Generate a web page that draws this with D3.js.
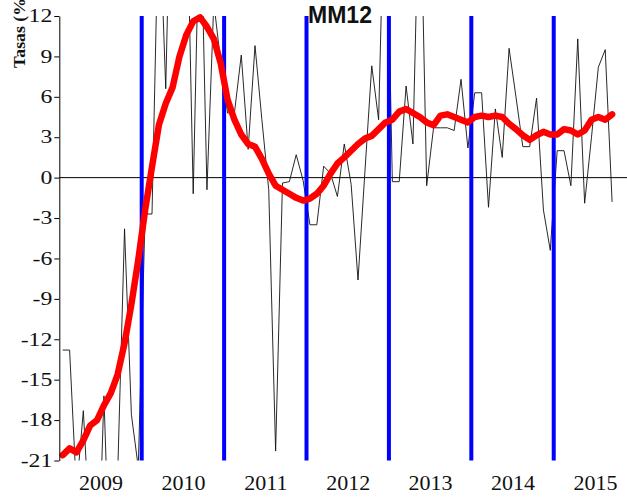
<!DOCTYPE html>
<html>
<head>
<meta charset="utf-8">
<script src="https://cdn.jsdelivr.net/npm/d3@7"></script>
<style>
  html, body { margin: 0; padding: 0; background: #fff; }
  svg { display: block; }
</style>
</head>
<body>
<svg id="chart" width="627" height="497"></svg>
<script>
// years on the x axis (monthly data, Jan 2009 - Sep 2015)
const years = [2009, 2010, 2011, 2012, 2013, 2014, 2015];
const yTicks = [-21, -18, -15, -12, -9, -6, -3, 0, 3, 6, 9, 12];

// monthly rate (%), thin black line (values outside -21..12 are clipped)
const tasa = [
  -12.8, -12.8, -23.3, -17.3, -26.8, -32, -16.2, -32, -22, -3.8, -17.6, -21.5,
  -2.7, -2.7, 21, 6.6, 29, 28, 23, -1.2, 22, -0.9, 13, 8.6,
  4.8, 4.8, 9.1, 2.1, 9.8, 4.3, -0.9, -20.3, -0.4, -0.3, 1.7, -0.2,
  -3.5, -3.5, 0.85, 0.3, -1.4, 2.5, -0.5, -7.6, 0.4, 8.3, 4.3, 25,
  -0.3, -0.3, 6.8, 2.5, 24, -0.6, 3.7, 3.7, 3.7, 3.5, 7.3, 2.2,
  6.3, 6.3, -2.2, 5.1, 1.5, 9.6, 6.0, 2.3, 2.3, 5.9, -2.4, -5.4,
  2.0, 2.0, -0.6, 10.3, -1.9, 3.0, 8.2, 9.5, -1.8
];

// 12-month moving average, thick red line
const mm12 = [
  -20.6, -20.1, -20.4, -19.5, -18.4, -18.0, -16.9, -16.0, -14.6, -12.3, -9.4, -6.1,
  -2.4, 0.8, 3.9, 5.5, 6.7, 9.0, 10.6, 11.6, 11.9, 11.2, 10.3, 8.5,
  5.8, 4.3, 3.2, 2.5, 2.3, 1.4, 0.3, -0.6, -0.9, -1.2, -1.5, -1.7,
  -1.55, -1.2, -0.6, 0.3, 1.05, 1.5, 2.0, 2.5, 2.9, 3.1, 3.6, 4.1,
  4.3, 4.9, 5.1, 4.8, 4.5, 4.1, 3.9, 4.6, 4.7, 4.5, 4.3, 4.1,
  4.5, 4.6, 4.5, 4.6, 4.5, 4.0, 3.6, 3.15, 2.8, 3.15, 3.4, 3.2,
  3.2, 3.6, 3.5, 3.2, 3.5, 4.3, 4.5, 4.3, 4.7
];

const width = 627, height = 497;
const plotLeft = 59.3, plotTop = 16, plotBottom = 460.5;
const step = 6.867; // px per month
const stretch = 1.32; // serif labels are drawn wide in the original

const svg = d3.select("#chart");

const x = d3.scaleLinear()
  .domain([-0.5, 81.5])
  .range([plotLeft, plotLeft + 82 * step]);

const y = d3.scaleLinear()
  .domain([-21, 12])
  .range([plotBottom, plotTop]);

svg.append("clipPath")
  .attr("id", "plot")
  .append("rect")
  .attr("x", plotLeft)
  .attr("y", plotTop)
  .attr("width", width - plotLeft)
  .attr("height", plotBottom - plotTop);

// zero line
svg.append("line")
  .attr("x1", x(-0.5))
  .attr("x2", width)
  .attr("y1", y(0))
  .attr("y2", y(0))
  .attr("stroke", "#000")
  .attr("stroke-width", 1);

// monthly rate
const line = d3.line()
  .x((d, i) => x(i))
  .y(d => y(d));

svg.append("path")
  .datum(tasa)
  .attr("clip-path", "url(#plot)")
  .attr("d", line)
  .attr("fill", "none")
  .attr("stroke", "#111")
  .attr("stroke-width", 0.9);

// year separators
svg.selectAll(".sep")
  .data(years.slice(1))
  .enter()
  .append("line")
  .attr("class", "sep")
  .attr("x1", (d, i) => x((i + 1) * 12 - 0.5))
  .attr("x2", (d, i) => x((i + 1) * 12 - 0.5))
  .attr("y1", y(-21))
  .attr("y2", y(12))
  .attr("stroke", "#0000ff")
  .attr("stroke-width", 4);

// moving average
svg.append("path")
  .datum(mm12)
  .attr("d", line)
  .attr("fill", "none")
  .attr("stroke", "#ff0000")
  .attr("stroke-width", 6.5)
  .attr("stroke-linejoin", "round")
  .attr("stroke-linecap", "round");

// y axis
const yAxis = svg.append("g")
  .attr("transform", "translate(" + plotLeft + ",0)")
  .call(d3.axisLeft(y).tickValues(yTicks).tickFormat(d => String(d))
    .tickSize(5).tickSizeOuter(0).tickPadding(3));

yAxis.selectAll("path, line").attr("stroke", "#000");
yAxis.selectAll("text")
  .attr("x", -7 / stretch)
  .attr("transform", "scale(" + stretch + ",1)")
  .style("font-family", "'Liberation Serif', serif")
  .style("font-size", "18px")
  .attr("fill", "#111");

// x axis (year labels centred in each year)
const xAxis = svg.append("g")
  .attr("transform", "translate(0," + plotBottom + ")")
  .call(d3.axisBottom(x).tickValues(years.map((d, i) => i * 12 + 5.5))
    .tickFormat((d, i) => years[i]).tickSize(0));

xAxis.select(".domain").remove();
xAxis.selectAll("text")
  .attr("y", 29.5)
  .attr("dy", 0)
  .style("font-family", "'Liberation Serif', serif")
  .style("font-size", "22px")
  .attr("fill", "#111");

// titles
svg.append("text")
  .attr("x", 340)
  .attr("y", 22.7)
  .attr("text-anchor", "middle")
  .style("font-family", "'Liberation Sans', Arial, sans-serif")
  .style("font-weight", "bold")
  .style("font-size", "23px")
  .attr("fill", "#111")
  .text("MM12");

svg.append("text")
  .attr("transform", "translate(25,68) scale(" + stretch + ",1) rotate(-90)")
  .attr("textLength", 76)
  .attr("lengthAdjust", "spacingAndGlyphs")
  .style("font-family", "'Liberation Serif', serif")
  .style("font-weight", "bold")
  .style("font-size", "13px")
  .attr("fill", "#111")
  .text("Tasas (%)");
</script>
</body>
</html>
